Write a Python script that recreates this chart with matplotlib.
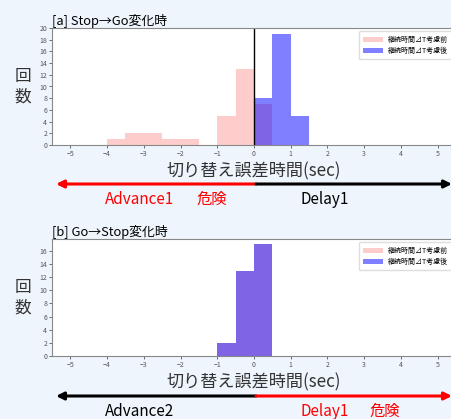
import numpy as np
import matplotlib
matplotlib.use("Agg")
import matplotlib.pyplot as plt
from matplotlib.patches import FancyArrowPatch

plt.rcParams['font.family'] = ['Noto Sans CJK JP', 'DejaVu Sans']

# ビンの左端 (幅0.5)
bin_edges = np.arange(-5.5, 5.51, 0.5)

# [a] Stop→Go変化時
a_before_left = [-4.0, -3.5, -3.0, -2.5, -2.0, -1.0, -0.5, 0.0]
a_before_cnt = [1, 2, 2, 1, 1, 5, 13, 7]
a_after_left = [0.0, 0.5, 1.0]
a_after_cnt = [8, 19, 5]

# [b] Go→Stop変化時
b_before_left = [-1.0, -0.5, 0.0]
b_before_cnt = [2, 13, 17]
b_after_left = [-1.0, -0.5, 0.0]
b_after_cnt = [2, 13, 17]

lbl_before = '継続時間⊿T考慮前'
lbl_after = '継続時間⊿T考慮後'
xticks = [-5, -4, -3, -2, -1, 0, 1, 2, 3, 4, 5]

W, H = 452, 419
fig = plt.figure(figsize=(W / 100, H / 100), dpi=100)
fig.patch.set_facecolor('#eef5fd')


def panel(rect, title, bl, bc, al, ac, ymax, yticks, vline):
    ax = fig.add_axes(rect)
    ax.hist(bl, bins=bin_edges, weights=bc, color='red', alpha=0.2, label=lbl_before)
    ax.hist(al, bins=bin_edges, weights=ac, color='blue', alpha=0.5, label=lbl_after)
    if vline:
        ax.axvline(0, color='black', lw=1)
    ax.set_xlim(-5.5, 5.5)
    ax.set_ylim(0, ymax)
    ax.set_xticks(xticks)
    ax.set_yticks(yticks)
    ax.tick_params(labelsize=5, colors='#555555', length=2, width=0.6, pad=1.5)
    for s in ax.spines.values():
        s.set_color('#888888')
        s.set_linewidth(0.8)
    ax.set_title(title, loc='left', fontsize=9.3, pad=2)
    ax.set_xlabel('切り替え誤差時間(sec)', fontsize=12.3, color='#333333', labelpad=3)
    ax.set_ylabel('回\n数', fontsize=12, rotation=0, va='center', color='#333333',
                  linespacing=1.25, labelpad=12)
    ax.legend(loc='upper right', fontsize=5, handlelength=2.8, framealpha=1,
              edgecolor='#dddddd', borderpad=0.6)
    return ax


panel([52 / W, 1 - 145 / H, 404 / W, 117 / H], '[a] Stop→Go変化時',
      a_before_left, a_before_cnt, a_after_left, a_after_cnt,
      20, range(0, 21, 2), True)
panel([52 / W, 1 - 356 / H, 404 / W, 117 / H], '[b] Go→Stop変化時',
      b_before_left, b_before_cnt, b_after_left, b_after_cnt,
      17.8, range(0, 17, 2), False)


def arrow(y, left_col, right_col):
    yf = 1 - y / H
    x0, xm, x1 = 56 / W, 256 / W, 452 / W
    fig.add_artist(FancyArrowPatch((xm, yf), (x0, yf), transform=fig.transFigure,
                                   arrowstyle='-|>', mutation_scale=11, lw=2.2,
                                   color=left_col, shrinkA=0, shrinkB=0))
    fig.add_artist(FancyArrowPatch((xm, yf), (x1, yf), transform=fig.transFigure,
                                   arrowstyle='-|>', mutation_scale=11, lw=2.2,
                                   color=right_col, shrinkA=0, shrinkB=0))


def label(x, y, s, c):
    fig.text(x / W, 1 - y / H, s, color=c, fontsize=11, ha='center', va='center')


arrow(184, 'red', 'black')
label(140, 200, 'Advance1', 'red')
label(212, 199, '危険', 'red')
label(325, 200, 'Delay1', 'black')

arrow(396, 'black', 'red')
label(140, 411, 'Advance2', 'black')
label(325, 411, 'Delay1', 'red')
label(385, 411, '危険', 'red')

fig.savefig('out.png', dpi=100, facecolor=fig.get_facecolor())
